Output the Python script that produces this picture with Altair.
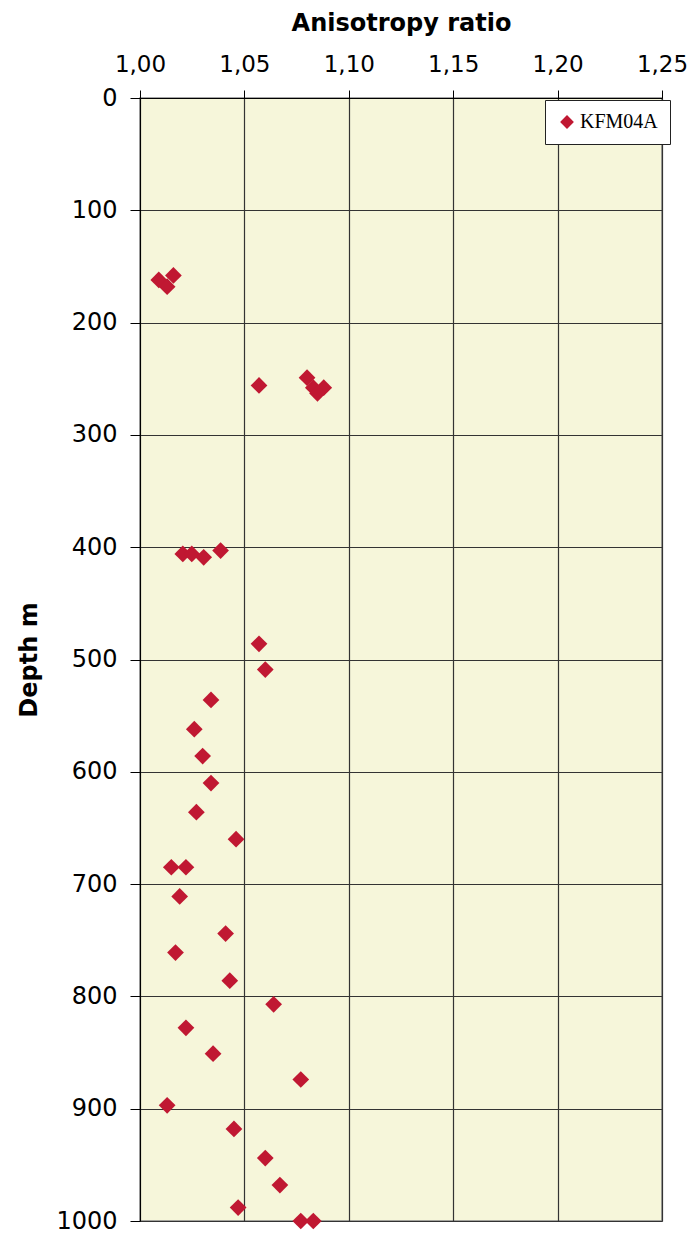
import altair as alt
import pandas as pd

series_name = "KFM04A"
anisotropy = [1.009, 1.016, 1.013,
              1.057, 1.080, 1.083, 1.088, 1.085,
              1.0205, 1.0248, 1.0305, 1.0386,
              1.057, 1.060, 1.034, 1.026, 1.030, 1.034, 1.027, 1.046,
              1.015, 1.022, 1.019, 1.041, 1.017, 1.043, 1.064, 1.022,
              1.035, 1.077, 1.013, 1.045, 1.060, 1.067, 1.047, 1.077, 1.083]
depth = [162, 158, 168,
         256, 249, 258, 258, 263,
         406, 406, 409, 403,
         486, 509, 536, 562, 586, 610, 636, 660,
         685, 685, 711, 744, 761, 786, 807, 828,
         851, 874, 897, 918, 944, 968, 988, 1000, 1000]

x_ticks = [1.00, 1.05, 1.10, 1.15, 1.20, 1.25]
y_ticks = list(range(0, 1001, 100))

df = pd.DataFrame({"ratio": anisotropy, "depth": depth, "series": series_name})

marker_color = "#C01832"

chart = alt.Chart(df).mark_point(
    shape="diamond", filled=True, size=280, opacity=1
).encode(
    x=alt.X("ratio:Q",
            scale=alt.Scale(domain=[1.0, 1.25], nice=False, zero=False),
            axis=alt.Axis(orient="top", values=x_ticks, title="Anisotropy ratio",
                          labelExpr="replace(format(datum.value, '.2f'), '.', ',')",
                          titleFontSize=24, titleFontWeight="bold", titleFont="DejaVu Sans",
                          titlePadding=18, labelFont="DejaVu Sans", labelFontSize=23,
                          labelPadding=14, tickSize=8, tickColor="#000", domainColor="#000",
                          labelColor="#000", titleColor="#000", labelFlush=False,
                          gridColor="#333", gridWidth=1.2)),
    y=alt.Y("depth:Q",
            scale=alt.Scale(domain=[0, 1000], reverse=True, nice=False),
            axis=alt.Axis(values=y_ticks, title="Depth m", format="d",
                          titleFontSize=24, titleFontWeight="bold", titleFont="DejaVu Sans",
                          titlePadding=14, labelFont="DejaVu Sans", labelFontSize=24,
                          labelPadding=13, tickSize=10, tickColor="#000", domainColor="#000",
                          labelColor="#000", titleColor="#000", labelFlush=False,
                          gridColor="#333", gridWidth=1.2)),
    color=alt.Color("series:N",
                    scale=alt.Scale(domain=[series_name], range=[marker_color]),
                    legend=alt.Legend(title=None, orient="none", legendX=405, legendY=2,
                                      fillColor="white", strokeColor="#222",
                                      padding=12, symbolSize=190, symbolType="diamond",
                                      labelFont="Liberation Serif", labelFontSize=20,
                                      labelColor="#000", symbolOffset=0,
                                      labelOffset=3)),
).properties(
    width=522, height=1123,
    background="white",
    padding={"left": 132, "top": 90, "right": 26, "bottom": 16},
    autosize=alt.AutoSizeParams(type="none"),
).configure_view(
    fill="#F6F6DA", stroke="#888", strokeWidth=1.5
)

chart.save("out.html", embed_options={"renderer": "svg", "actions": False})
